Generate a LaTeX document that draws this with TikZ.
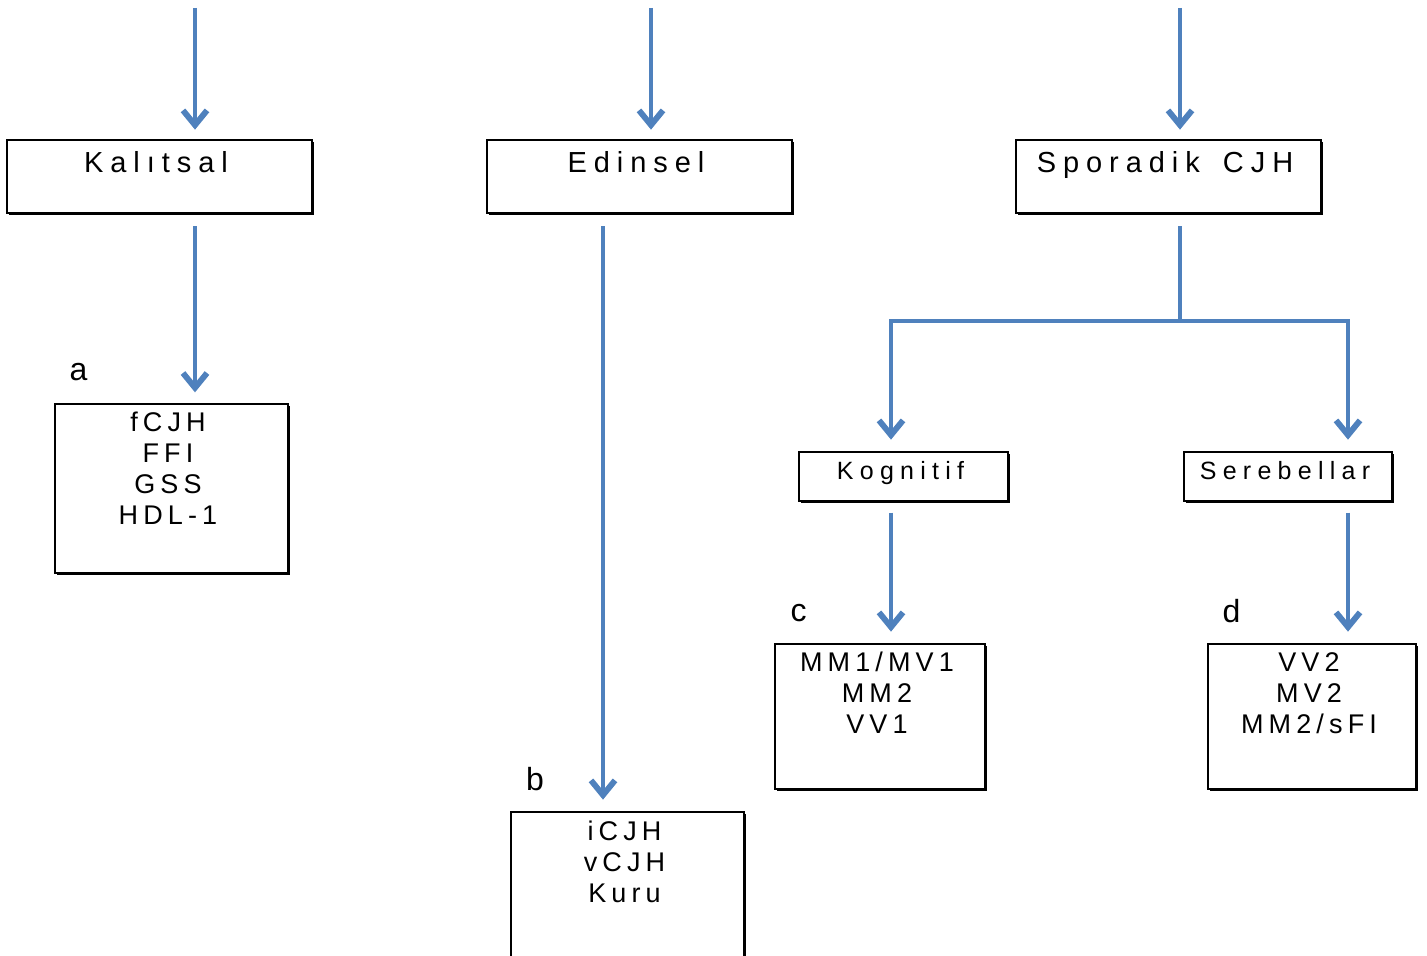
\documentclass[tikz,border=0pt]{standalone}
\usepackage{fontspec}
\setmainfont{Liberation Sans}
\newfontfamily\headfont{Liberation Sans}[LetterSpace=24]
\newfontfamily\subfont{Liberation Sans}[LetterSpace=25]
\newfontfamily\listfont{Liberation Sans}[LetterSpace=19]
\usetikzlibrary{arrows.meta,shadows,calc}
\definecolor{flowblue}{HTML}{4F81BD}

\begin{document}
\begin{tikzpicture}[x=0.75pt,y=-0.75pt,
  box/.style={draw=black, line width=1.5pt, fill=white, rectangle, inner sep=0pt,
    drop shadow={shadow xshift=1.5pt, shadow yshift=-1.5pt, opacity=1, fill=black}},
  headtxt/.style={inner sep=0pt, anchor=base, font=\headfont\fontsize{21.75pt}{26pt}\selectfont},
  subtxt/.style={inner sep=0pt, anchor=base, font=\subfont\fontsize{18.75pt}{22pt}\selectfont},
  listtxt/.style={inner sep=0pt, anchor=north, align=center,
    font=\listfont\fontsize{20.25pt}{23.25pt}\selectfont},
  tag/.style={inner sep=0pt, anchor=base, font=\fontsize{24pt}{28pt}\selectfont},
  link/.style={draw=flowblue, line width=3.6pt, line join=miter},
  arr/.style={link, -{Straight Barb[length=11pt,width=18pt,line width=4.4pt]}},
]
\useasboundingbox (0,0) rectangle (1427,956);

% first level
\node[box, minimum width=305*0.75pt, minimum height=73*0.75pt] (kal) at (159.5,176.5) {};
\node[box, minimum width=305*0.75pt, minimum height=73*0.75pt] (edi) at (639.5,176.5) {};
\node[box, minimum width=305*0.75pt, minimum height=73*0.75pt] (spo) at (1168.5,176.5) {};
\node[headtxt] (kalt) at (156,172) {Kalıtsal};
\node[headtxt] (edit) at (636,172) {Edinsel};
\node[headtxt] (spot) at (1165,172) {Sporadik\hspace{6pt} CJH};

% sporadic subtypes
\node[box, minimum width=209*0.75pt, minimum height=49*0.75pt] (kog) at (903.5,476.5) {};
\node[box, minimum width=208*0.75pt, minimum height=49*0.75pt] (ser) at (1288,476.5) {};
\node[subtxt] (kogt) at (900.5,479) {Kognitif};
\node[subtxt] (sert) at (1285,479) {Serebellar};

% leaf boxes
\node[box, minimum width=233*0.75pt, minimum height=169*0.75pt] (boxa) at (171.5,488.5) {};
\node[box, minimum width=233*0.75pt, minimum height=180*0.75pt] (boxb) at (627.5,902) {};
\node[box, minimum width=210*0.75pt, minimum height=145*0.75pt] (boxc) at (880,716.5) {};
\node[box, minimum width=208*0.75pt, minimum height=145*0.75pt] (boxd) at (1312,716.5) {};
\node[listtxt] (at) at (168,412) {fCJH\\FFI\\GSS\\HDL-1};
\node[listtxt] (bt) at (624.5,821) {iCJH\\vCJH\\Kuru};
\node[listtxt] (ct) at (877,652) {MM1/MV1\\MM2\\VV1};
\node[listtxt] (dt) at (1309,652) {VV2\\MV2\\MM2/sFI};

% letters
\node[tag] (la) at (78.5,380) {a};
\node[tag] (lb) at (535,790) {b};
\node[tag] (lc) at (798.5,621) {c};
\node[tag] (ld) at (1231.5,622) {d};

% column guides and free ends
\coordinate (t1) at (195,8);
\coordinate (t2) at (651,8);
\coordinate (t3) at (1180,8);
\coordinate (cb) at (603,0);
\coordinate (ck) at (891,0);
\coordinate (cs) at (1348,0);
\coordinate (j) at (1180,321);

% incoming arrows
\draw[arr, shorten >=7pt] (t1) -- (t1 |- kal.north);
\draw[arr, shorten >=7pt] (t2) -- (t2 |- edi.north);
\draw[arr, shorten >=7pt] (t3) -- (t3 |- spo.north);

% first level to leaves
\draw[arr, shorten <=9pt, shorten >=8pt] (kal.south -| t1) -- (boxa.north -| t1);
\draw[arr, shorten <=9pt, shorten >=8.5pt] (edi.south -| cb) -- (boxb.north -| cb);

% sporadic branch
\draw[link, shorten <=9pt] (spo.south -| j) -- (j);
\draw[arr, shorten >=8.5pt] (j) -| (kog.north -| ck);
\draw[arr, shorten >=8.5pt] (j) -| (ser.north -| cs);
\draw[arr, shorten <=8pt, shorten >=8.5pt] (kog.south -| ck) -- (boxc.north -| ck);
\draw[arr, shorten <=8pt, shorten >=8.5pt] (ser.south -| cs) -- (boxd.north -| cs);
\end{tikzpicture}
\end{document}
